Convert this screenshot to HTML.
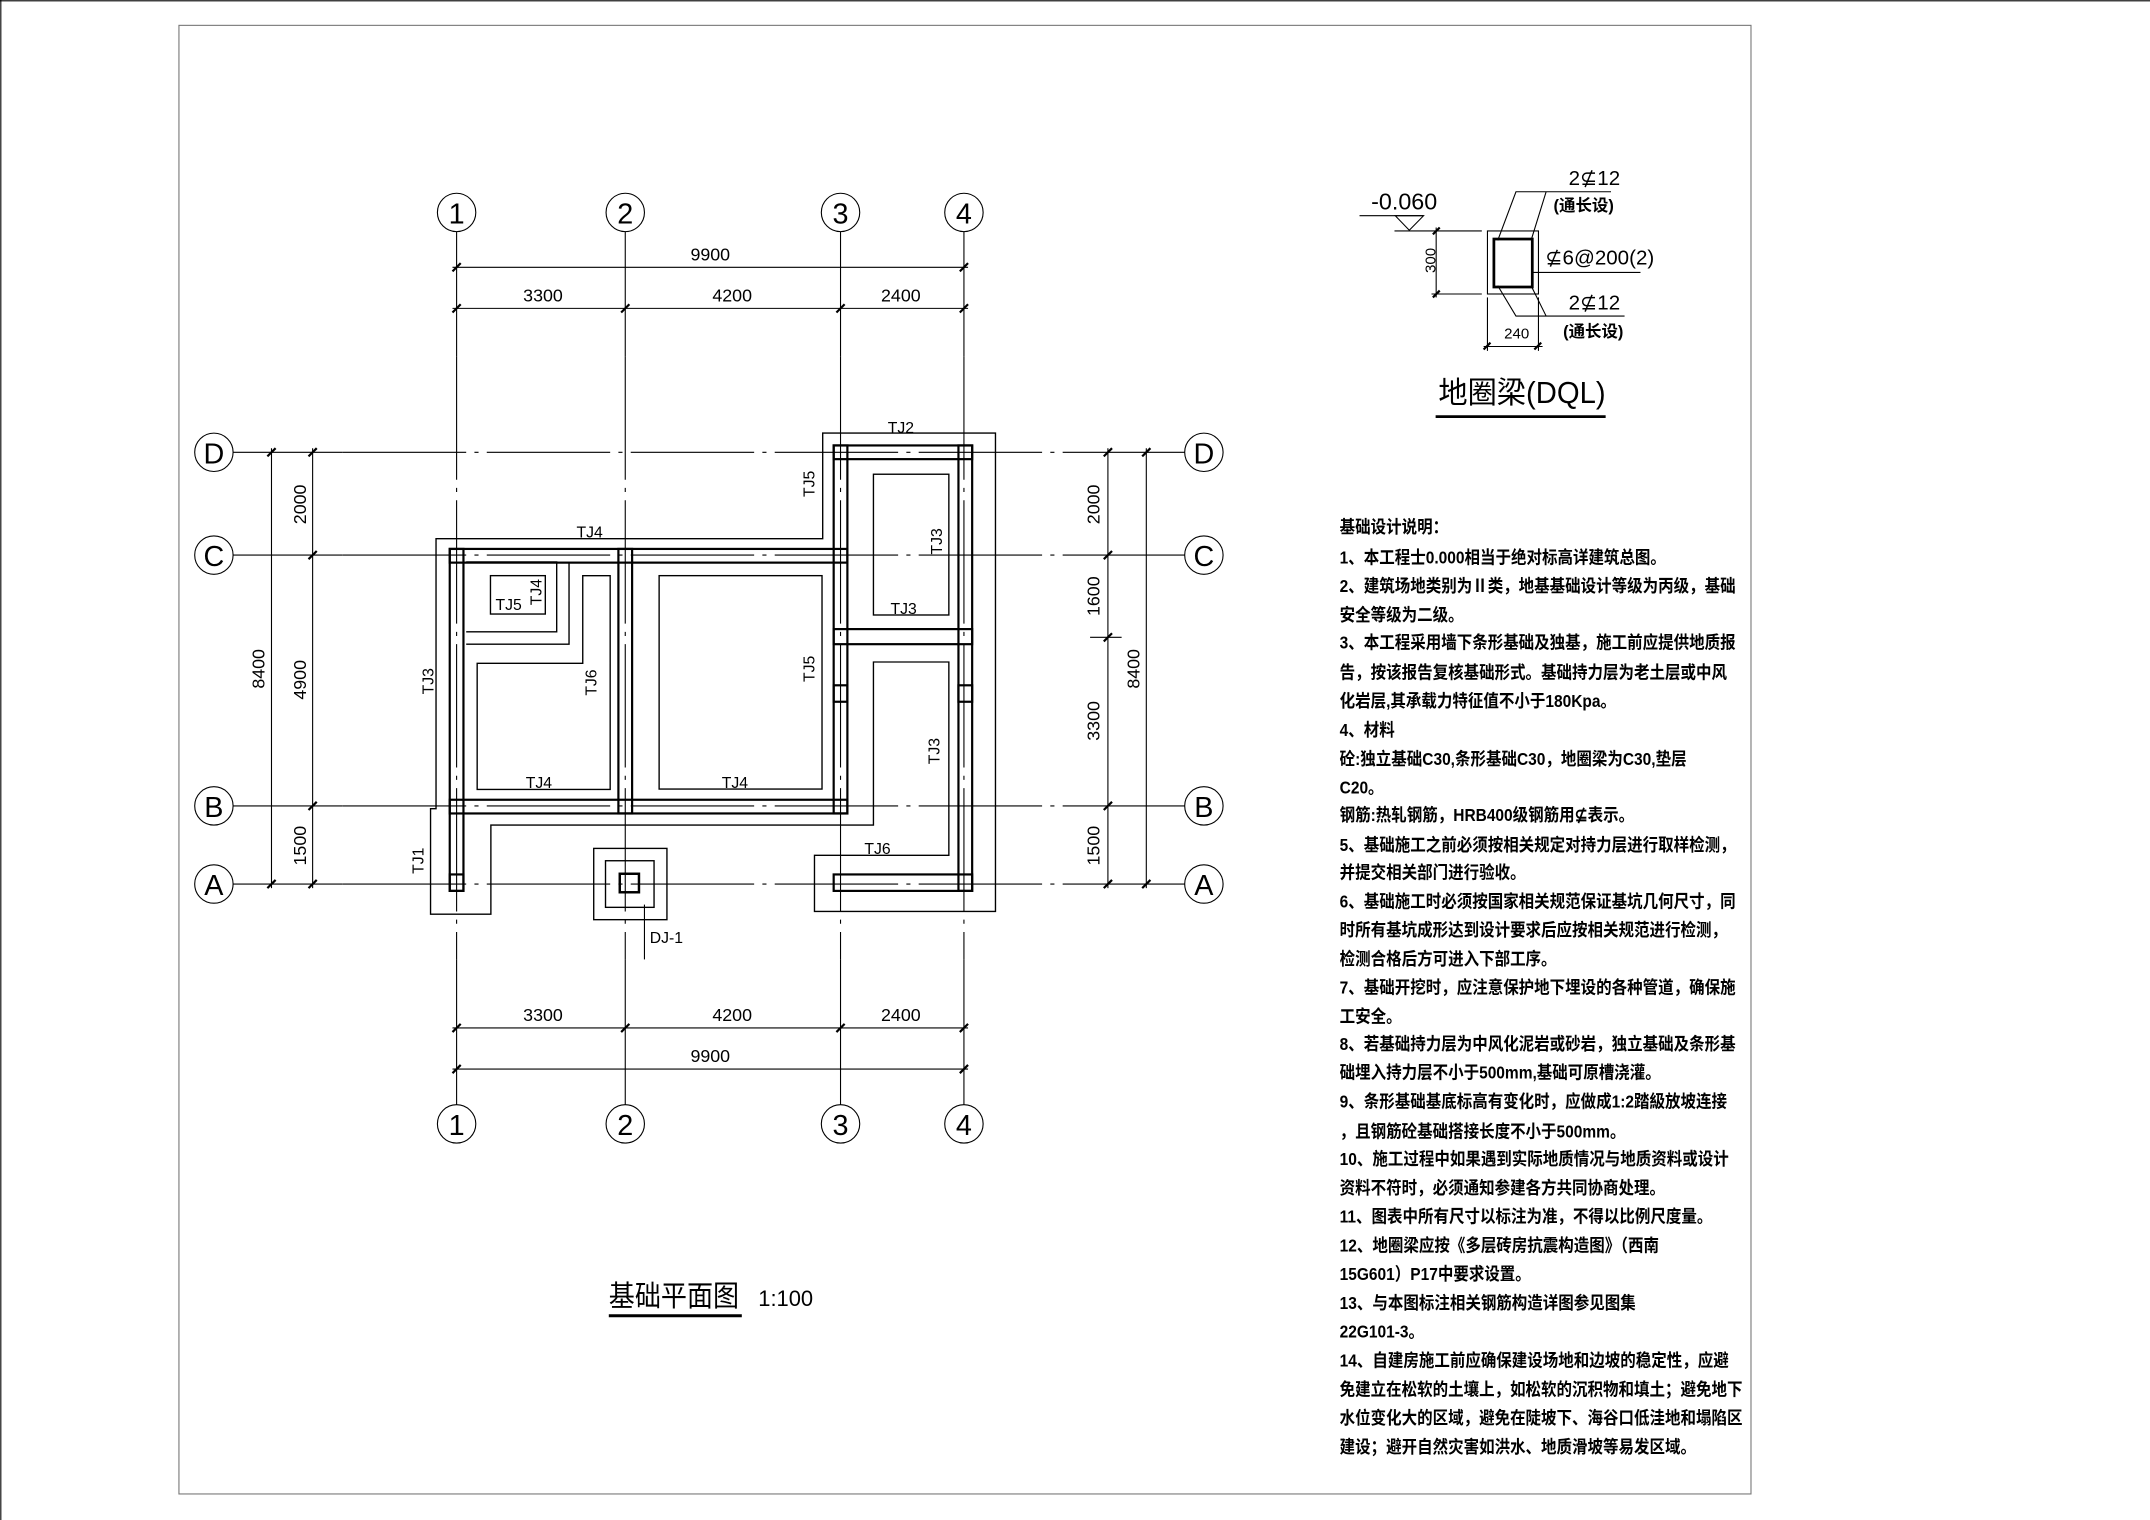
<!DOCTYPE html>
<html><head><meta charset="utf-8"><style>
html,body{margin:0;padding:0;background:#fff}
svg{display:block}
text{font-family:"Liberation Sans","Noto Sans CJK SC",sans-serif;fill:#000}
.n{font-family:"Liberation Sans","Noto Sans CJK SC",sans-serif;font-weight:bold}
</style></head><body>
<svg width="2150" height="1520" viewBox="0 0 1568 1109" preserveAspectRatio="none" xmlns="http://www.w3.org/2000/svg">
<rect x="0" y="0" width="1568" height="1109" fill="#fff"/>
<line x1="0" y1="0.6" x2="1568" y2="0.6" stroke="#000" stroke-width="0.8"/>
<line x1="0.6" y1="0" x2="0.6" y2="1109" stroke="#000" stroke-width="0.8"/>
<rect x="130.5" y="18.5" width="1146.5" height="1071.5" fill="none" stroke="#777" stroke-width="0.8"/>

<g stroke="#000" fill="none" stroke-width="0.8">
<line x1="333" y1="169" x2="333" y2="260"/><line x1="456" y1="169" x2="456" y2="260"/>
<line x1="613" y1="169" x2="613" y2="260"/><line x1="703" y1="169" x2="703" y2="260"/>
<line x1="333" y1="700" x2="333" y2="806"/><line x1="456" y1="700" x2="456" y2="806"/>
<line x1="613" y1="700" x2="613" y2="806"/><line x1="703" y1="700" x2="703" y2="806"/>
<line x1="170" y1="330" x2="250" y2="330"/><line x1="170" y1="405" x2="250" y2="405"/>
<line x1="170" y1="588" x2="250" y2="588"/><line x1="170" y1="645" x2="250" y2="645"/>
<line x1="780" y1="330" x2="864" y2="330"/><line x1="780" y1="405" x2="864" y2="405"/>
<line x1="780" y1="588" x2="864" y2="588"/><line x1="780" y1="645" x2="864" y2="645"/>
<g stroke-dasharray="90 6 3 6">
<line x1="333" y1="260" x2="333" y2="700"/><line x1="456" y1="260" x2="456" y2="700"/>
<line x1="613" y1="260" x2="613" y2="700"/><line x1="703" y1="260" x2="703" y2="700"/>
<line x1="250" y1="330" x2="780" y2="330"/><line x1="250" y1="405" x2="780" y2="405"/>
<line x1="250" y1="588" x2="780" y2="588"/><line x1="250" y1="645" x2="780" y2="645"/>
</g>
<circle cx="333" cy="155" r="14"/><circle cx="456" cy="155" r="14"/><circle cx="613" cy="155" r="14"/><circle cx="703" cy="155" r="14"/>
<circle cx="333" cy="820" r="14"/><circle cx="456" cy="820" r="14"/><circle cx="613" cy="820" r="14"/><circle cx="703" cy="820" r="14"/>
<circle cx="156" cy="330" r="14"/><circle cx="156" cy="405" r="14"/><circle cx="156" cy="588" r="14"/><circle cx="156" cy="645" r="14"/>
<circle cx="878" cy="330" r="14"/><circle cx="878" cy="405" r="14"/><circle cx="878" cy="588" r="14"/><circle cx="878" cy="645" r="14"/>
<line x1="330" y1="195" x2="706" y2="195"/><line x1="330" y1="225" x2="706" y2="225"/>
<line x1="330" y1="750" x2="706" y2="750"/><line x1="330" y1="780" x2="706" y2="780"/>
<line x1="198" y1="327" x2="198" y2="648"/><line x1="228" y1="327" x2="228" y2="648"/>
<line x1="808" y1="327" x2="808" y2="648"/><line x1="836" y1="327" x2="836" y2="648"/>
<line x1="795" y1="465" x2="818" y2="465"/>
</g>
<g stroke="#000" stroke-width="1.6">
<path d="M330 198L336 192M700 198L706 192M330 228L336 222M453 228L459 222M610 228L616 222M700 228L706 222"/>
<path d="M330 753L336 747M453 753L459 747M610 753L616 747M700 753L706 747M330 783L336 777M700 783L706 777"/>
<path d="M195 333L201 327M195 648L201 642M225 333L231 327M225 408L231 402M225 591L231 585M225 648L231 642"/>
<path d="M805 333L811 327M805 408L811 402M805 468L811 462M805 591L811 585M805 648L811 642M833 333L839 327M833 648L839 642"/>
</g>
<g font-size="21" text-anchor="middle">
<text x="333" y="163">1</text><text x="456" y="163">2</text><text x="613" y="163">3</text><text x="703" y="163">4</text>
<text x="333" y="828">1</text><text x="456" y="828">2</text><text x="613" y="828">3</text><text x="703" y="828">4</text>
<text x="156" y="338">D</text><text x="156" y="413">C</text><text x="156" y="596">B</text><text x="156" y="653">A</text>
<text x="878" y="338">D</text><text x="878" y="413">C</text><text x="878" y="596">B</text><text x="878" y="653">A</text>
</g>
<g font-size="13" text-anchor="middle">
<text x="518" y="190">9900</text><text x="396" y="220">3300</text><text x="534" y="220">4200</text><text x="657" y="220">2400</text>
<text x="396" y="745">3300</text><text x="534" y="745">4200</text><text x="657" y="745">2400</text><text x="518" y="775">9900</text>
<text transform="translate(193,488) rotate(-90)">8400</text>
<text transform="translate(223,368) rotate(-90)">2000</text>
<text transform="translate(223,496) rotate(-90)">4900</text>
<text transform="translate(223,617) rotate(-90)">1500</text>
<text transform="translate(802,368) rotate(-90)">2000</text>
<text transform="translate(802,435) rotate(-90)">1600</text>
<text transform="translate(802,526) rotate(-90)">3300</text>
<text transform="translate(802,617) rotate(-90)">1500</text>
<text transform="translate(831,488) rotate(-90)">8400</text>
</g>

<g stroke="#000" fill="none" stroke-width="1">
<path d="M318 590V393H600V316H726V665H594V624H692V483H637V602H358V667H314V590Z"/>
<path d="M340 410H406V461H340"/>
<path d="M415 410V470H340"/>
<rect x="357.7" y="420" width="40" height="28"/>
<path d="M425 420H445V576H348V484H425Z"/>
<rect x="480.7" y="420" width="118.8" height="155.7"/>
<rect x="637" y="346" width="55" height="102.7"/>
<rect x="433" y="619" width="53.4" height="52"/>
<rect x="441.6" y="628" width="35.4" height="34"/>
</g>
<g stroke="#000" fill="none" stroke-width="1.6">
<rect x="328" y="400.5" width="290" height="10"/>
<rect x="328" y="583.5" width="290" height="10"/>
<rect x="328" y="400.5" width="10" height="249.5"/>
<rect x="328" y="638" width="10" height="12"/>
<rect x="451" y="400.5" width="10" height="193"/>
<rect x="608" y="325" width="10" height="268.5"/>
<rect x="699" y="325" width="10" height="325"/>
<rect x="608" y="325" width="101" height="10"/>
<rect x="608" y="459" width="101" height="11"/>
<rect x="608" y="638" width="101" height="12"/>
<rect x="608" y="500" width="10" height="12"/>
<rect x="699" y="500" width="10" height="12"/>
<rect x="452" y="637.5" width="14" height="13.5" stroke-width="1.8"/>
</g>
<g stroke="#000" stroke-width="0.8">
<line x1="470" y1="660" x2="470" y2="700"/>
</g>
<g font-size="11.5" text-anchor="middle">
<text x="657" y="316">TJ2</text>
<text x="430" y="392">TJ4</text>
<text x="371" y="445">TJ5</text>
<text x="659" y="448">TJ3</text>
<text x="393" y="575">TJ4</text>
<text x="536" y="575">TJ4</text>
<text x="640" y="623">TJ6</text>
<text x="486" y="688">DJ-1</text>
<text transform="translate(594,353) rotate(-90)">TJ5</text>
<text transform="translate(687,395) rotate(-90)">TJ3</text>
<text transform="translate(395,432) rotate(-90)">TJ4</text>
<text transform="translate(435,498) rotate(-90)">TJ6</text>
<text transform="translate(594,488) rotate(-90)">TJ5</text>
<text transform="translate(316,497) rotate(-90)">TJ3</text>
<text transform="translate(685,548) rotate(-90)">TJ3</text>
<text transform="translate(309,628) rotate(-90)">TJ1</text>
</g>
<text x="444" y="953" font-size="21" textLength="95" lengthAdjust="spacingAndGlyphs">基础平面图</text>
<line x1="444" y1="960" x2="541" y2="960" stroke="#000" stroke-width="2.2"/>
<text x="553" y="953" font-size="16">1:100</text>

<g stroke="#000" fill="none" stroke-width="0.8">
<rect x="1084.8" y="168.5" width="37.2" height="46"/>
<line x1="991.5" y1="157.4" x2="1038.2" y2="157.4"/>
<path d="M1017.6 157.4L1038.2 157.4L1027.8 168Z"/>
<line x1="1017" y1="168.5" x2="1080.7" y2="168.5"/>
<line x1="1044" y1="214.5" x2="1080.7" y2="214.5"/>
<line x1="1047.4" y1="166" x2="1047.4" y2="217"/>
<line x1="1084.8" y1="217" x2="1084.8" y2="256"/>
<line x1="1122" y1="217" x2="1122" y2="256"/>
<line x1="1082" y1="252.8" x2="1125" y2="252.8"/>
<path d="M1092.3 175.4L1105.6 139.9H1174.9M1116.6 175.4L1127.6 139.9"/>
<path d="M1092.3 208.4L1105.6 230.6H1184.8M1116.6 208.4L1127.6 230.6"/>
<line x1="1117.6" y1="198.8" x2="1196.4" y2="198.8"/>
</g>
<rect x="1089.5" y="174.4" width="28" height="35" fill="none" stroke="#000" stroke-width="2"/>
<g stroke="#000" stroke-width="1.6">
<path d="M1045 171L1050 166M1045 217L1050 212M1082 255L1087 250M1119 255L1124 250"/>
</g>
<g font-size="15">
<text x="1144" y="135">2⊈12</text>
<text x="1127" y="193">⊈6@200(2)</text>
<text x="1144" y="226">2⊈12</text>
<text x="1097" y="247" font-size="11">240</text>
<text x="1000" y="153" font-size="17">-0.060</text>
<text transform="translate(1047,190) rotate(-90)" font-size="11" text-anchor="middle">300</text>
</g>
<g font-size="12" class="n">
<text x="1133" y="154">(通长设)</text>
<text x="1140" y="246">(通长设)</text>
</g>
<text x="1049" y="294" font-size="22" textLength="122" lengthAdjust="spacingAndGlyphs">地圈梁(DQL)</text>
<line x1="1047" y1="304" x2="1171" y2="304" stroke="#000" stroke-width="2"/>

<g transform="translate(977,0) scale(0.87,1)" font-size="13" class="n">
<text x="0" y="389">基础设计说明：</text>
<text x="0" y="411">1、本工程士0.000相当于绝对标高详建筑总图。</text>
<text x="0" y="432">2、建筑场地类别为Ⅱ类，地基基础设计等级为丙级，基础</text>
<text x="0" y="453">安全等级为二级。</text>
<text x="0" y="473">3、本工程采用墙下条形基础及独基，施工前应提供地质报</text>
<text x="0" y="495">告，按该报告复核基础形式。基础持力层为老土层或中风</text>
<text x="0" y="516">化岩层,其承载力特征值不小于180Kpa。</text>
<text x="0" y="537">4、材料</text>
<text x="0" y="558">砼:独立基础C30,条形基础C30，地圈梁为C30,垫层</text>
<text x="0" y="579">C20。</text>
<text x="0" y="599">钢筋:热轧钢筋，HRB400级钢筋用⊈表示。</text>
<text x="0" y="621">5、基础施工之前必须按相关规定对持力层进行取样检测，</text>
<text x="0" y="641">并提交相关部门进行验收。</text>
<text x="0" y="662">6、基础施工时必须按国家相关规范保证基坑几何尺寸，同</text>
<text x="0" y="683">时所有基坑成形达到设计要求后应按相关规范进行检测，</text>
<text x="0" y="704">检测合格后方可进入下部工序。</text>
<text x="0" y="725">7、基础开挖时，应注意保护地下埋设的各种管道，确保施</text>
<text x="0" y="746">工安全。</text>
<text x="0" y="766">8、若基础持力层为中风化泥岩或砂岩，独立基础及条形基</text>
<text x="0" y="787">础埋入持力层不小于500mm,基础可原槽浇灌。</text>
<text x="0" y="808">9、条形基础基底标高有变化时，应做成1:2踏級放坡连接</text>
<text x="0" y="830">，且钢筋砼基础搭接长度不小于500mm。</text>
<text x="0" y="850">10、施工过程中如果遇到实际地质情况与地质资料或设计</text>
<text x="0" y="871">资料不符时，必须通知参建各方共同协商处理。</text>
<text x="0" y="892">11、图表中所有尺寸以标注为准，不得以比例尺度量。</text>
<text x="0" y="913">12、地圈梁应按《多层砖房抗震构造图》（西南</text>
<text x="0" y="934">15G601）P17中要求设置。</text>
<text x="0" y="955">13、与本图标注相关钢筋构造详图参见图集</text>
<text x="0" y="976">22G101-3。</text>
<text x="0" y="997">14、自建房施工前应确保建设场地和边坡的稳定性，应避</text>
<text x="0" y="1018">免建立在松软的土壤上，如松软的沉积物和填土；避免地下</text>
<text x="0" y="1039">水位变化大的区域，避免在陡坡下、海谷口低洼地和塌陷区</text>
<text x="0" y="1060">建设；避开自然灾害如洪水、地质滑坡等易发区域。</text>
</g>
</svg>
</body></html>
